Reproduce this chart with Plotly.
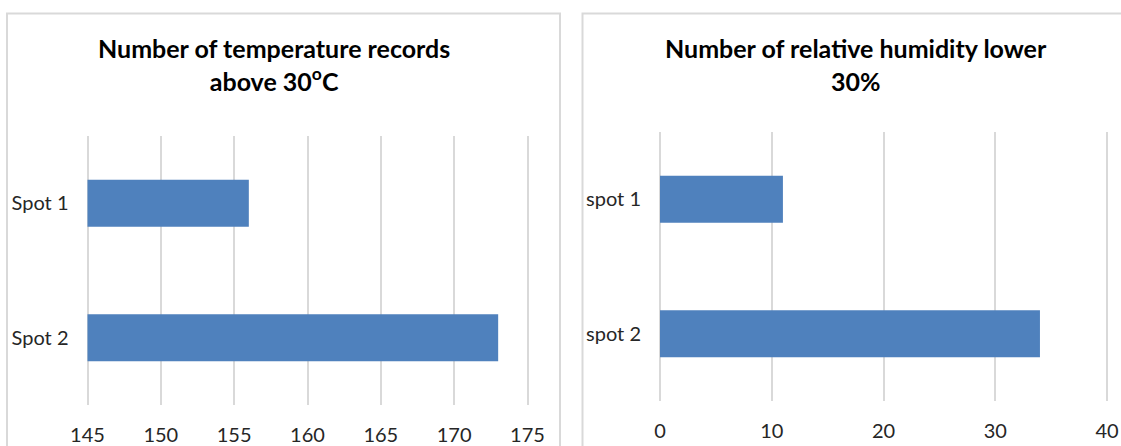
import plotly.graph_objects as go

# Data
temp_categories = ["Spot 1", "Spot 2"]
temp_values = [156, 173]
temp_ticks = [145, 150, 155, 160, 165, 170, 175]

hum_categories = ["spot 1", "spot 2"]
hum_values = [11, 34]
hum_ticks = [0, 10, 20, 30, 40]

title_left = "Number of temperature records<br>above 30<sup>o</sup>C"
title_right = "Number of relative humidity lower<br>30%"

W, H = 1121, 446
def fx(px):
    return px / W
def fy(py):
    return 1 - py / H

BAR = "#4f81bd"
GRID = "#d9d9d9"
FONT = "Lato"
TICK_COLOR = "#262626"

# small padding so the gridlines at the range ends are drawn
PADPX = 2
def padded(lo, hi, p0, p1):
    upx = (hi - lo) / (p1 - p0)
    return [lo - PADPX * upx, hi + PADPX * upx], [fx(p0 - PADPX), fx(p1 + PADPX)]

r1, d1 = padded(temp_ticks[0], temp_ticks[-1], 87.5, 527.5)
r2, d2 = padded(hum_ticks[0], hum_ticks[-1], 660, 1107)

base_left = temp_ticks[0]  # bars in the left chart start at the axis minimum

fig = go.Figure()
fig.add_trace(go.Bar(x=[v - base_left for v in temp_values], y=temp_categories, base=base_left,
                     orientation="h", marker=dict(color=BAR, line=dict(width=0)), width=0.35,
                     xaxis="x", yaxis="y", hoverinfo="skip"))
fig.add_trace(go.Bar(x=hum_values, y=hum_categories, orientation="h",
                     marker=dict(color=BAR, line=dict(width=0)), width=0.35,
                     xaxis="x2", yaxis="y2", hoverinfo="skip"))

xcommon = dict(showgrid=True, gridcolor=GRID, gridwidth=2, zeroline=False,
               showline=False, ticks="", tickfont=dict(family=FONT, size=20, color=TICK_COLOR),
               ticklabelstandoff=16, fixedrange=True, automargin=False)
ycommon = dict(showgrid=False, zeroline=False, showline=False, ticks="",
               tickfont=dict(family=FONT, size=20, color=TICK_COLOR),
               ticklabelstandoff=int(18 - PADPX), range=[1.5, -0.5], fixedrange=True, automargin=False)

fig.update_layout(
    width=W, height=H,
    margin=dict(l=0, r=0, t=0, b=0),
    paper_bgcolor="white", plot_bgcolor="white",
    showlegend=False,
    xaxis=dict(domain=d1, range=r1, tickvals=temp_ticks, anchor="y", **xcommon),
    yaxis=dict(domain=[fy(405), fy(136)], anchor="x", **ycommon),
    xaxis2=dict(domain=d2, range=r2, tickvals=hum_ticks, anchor="y2", **xcommon),
    yaxis2=dict(domain=[fy(401), fy(132)], anchor="x2", **ycommon),
    shapes=[
        dict(type="rect", xref="paper", yref="paper", x0=fx(7), x1=fx(560), y0=fy(460), y1=fy(13.5),
             line=dict(color=GRID, width=2), fillcolor="rgba(0,0,0,0)", layer="below"),
        dict(type="rect", xref="paper", yref="paper", x0=fx(582.5), x1=fx(1140), y0=fy(460), y1=fy(13.5),
             line=dict(color=GRID, width=2), fillcolor="rgba(0,0,0,0)", layer="below"),
    ],
    annotations=[
        dict(text=title_left, xref="paper", yref="paper", x=fx(274), y=fy(65), showarrow=False,
             xanchor="center", yanchor="middle", align="center",
             font=dict(family=FONT, size=25, color="#000000", weight="bold")),
        dict(text=title_right, xref="paper", yref="paper", x=fx(856), y=fy(65), showarrow=False,
             xanchor="center", yanchor="middle", align="center",
             font=dict(family=FONT, size=25, color="#000000", weight="bold")),
    ],
)

fig.write_html("out.html")
